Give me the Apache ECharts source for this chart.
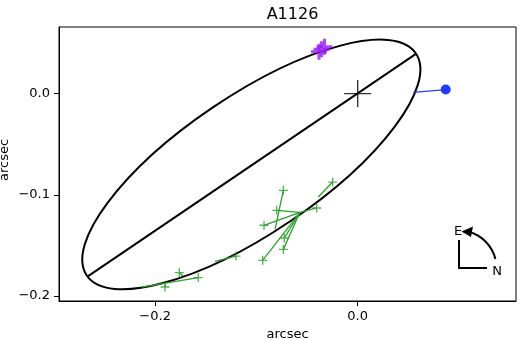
<!DOCTYPE html>
<html><head><meta charset="utf-8">
<script src="https://cdn.jsdelivr.net/npm/echarts@6/dist/echarts.min.js"></script>
<style>html,body{margin:0;padding:0;background:#fff}#c{width:520px;height:340px}</style>
</head><body><div id="c"></div>
<script>
// ---- data ----
const chartTitle = 'A1126';
const axisName = 'arcsec';
const xTicks = [-0.2, 0.0];
const yTicks = [-0.2, -0.1, 0.0];
const xRange = [-0.2949, 0.1563];
const yRange = [-0.2049, 0.0658];
// ellipse: centre x, centre y, semi-major, semi-minor, position angle (deg)
const ellipseParams = [-0.105, -0.070, 0.196, 0.068, 34];
const majorAxisX = [-0.2665, 0.0575];
const majorAxisY = [-0.1805, 0.0392];
const centreX = [0.0];
const centreY = [0.0];
const blueX = [0.0549, 0.0869];
const blueY = [0.0013, 0.0040];
const purpleX = [-0.0382, -0.0328, -0.0357];
const purpleY = [0.0413, 0.0462, 0.0438];
const greenX    = [-0.0247, -0.0734, -0.0800, -0.0405, -0.0925, -0.0725, -0.0734, -0.0938, -0.1201, -0.1574, -0.1761, -0.1902];
const greenY    = [-0.0874, -0.0956, -0.1153, -0.1130, -0.1301, -0.1427, -0.1539, -0.1647, -0.1605, -0.1818, -0.1769, -0.1911];
const greenEndX = [-0.0389, -0.0816, -0.0570, -0.0570, -0.0570, -0.0570, -0.0570, -0.0570, -0.1409, -0.2132, -0.1722, -0.1900];
const greenEndY = [-0.1022, -0.1341, -0.1173, -0.1173, -0.1173, -0.1173, -0.1173, -0.1173, -0.1657, -0.1911, -0.1802, -0.1880];

// ---- styles ----
const FONT = 'DejaVu Sans';
const BLACK = '#000000';
const GREEN = '#2ca02c';
const PURPLE = '#9a1cf0';
const BLUE = '#1f3cff';
function plusPath(t){ return 'path://M-'+t+',-10H'+t+'V-'+t+'H10V'+t+'H'+t+'V10H-'+t+'V'+t+'H-10V-'+t+'H-'+t+'Z'; }
const fmt = v => (v < -1e-9 ? '\u2212' : '') + Math.abs(v).toFixed(1);

const chart = echarts.init(document.getElementById('c'), null, {renderer:'canvas'});
const axisCommon = {
  type:'value',
  axisLine:{show:true, onZero:false, lineStyle:{color:BLACK, width:1}},
  axisTick:{show:true, length:5, lineStyle:{color:BLACK, width:1}},
  axisLabel:{color:BLACK, fontSize:13, fontFamily:FONT, margin:9, formatter:fmt},
  splitLine:{show:false},
  name:axisName, nameLocation:'middle',
  nameTextStyle:{color:BLACK, fontSize:13, fontFamily:FONT}
};
chart.setOption({
  animation:false,
  backgroundColor:'#ffffff',
  title:{text:chartTitle, left:287.5, textAlign:'center', top:2,
         textStyle:{color:BLACK, fontSize:16, fontWeight:'normal', fontFamily:FONT}},
  grid:{left:59, right:4, top:27, bottom:39, show:true, borderColor:BLACK, borderWidth:1, outerBoundsMode:'none'},
  xAxis:Object.assign({}, axisCommon, {min:xRange[0], max:xRange[1], nameGap:26,
      axisTick:Object.assign({}, axisCommon.axisTick, {customValues:xTicks}),
      axisLabel:Object.assign({}, axisCommon.axisLabel, {customValues:xTicks})}),
  yAxis:Object.assign({}, axisCommon, {min:yRange[0], max:yRange[1], nameGap:48, nameMoveOverlap:false,
      nameTextStyle:{color:BLACK, fontSize:13, fontFamily:FONT, padding:[0,0,0,8]},
      axisTick:Object.assign({}, axisCommon.axisTick, {customValues:yTicks}),
      axisLabel:Object.assign({}, axisCommon.axisLabel, {customValues:yTicks})}),
  series:[
    {type:'custom', silent:true, encode:{x:0, y:1}, data:[ellipseParams],
     renderItem:(params, api) => {
       const c = api.coord([api.value(0), api.value(1)]);
       const s = api.size([api.value(2), api.value(3)]);
       return {type:'ellipse', x:c[0], y:c[1], rotation:api.value(4)*Math.PI/180,
               shape:{cx:0, cy:0, rx:s[0], ry:s[1]},
               style:{fill:'none', stroke:BLACK, lineWidth:2}};
     }},
    {type:'line', silent:true, symbol:'none', data:majorAxisX.map((x,i)=>[x, majorAxisY[i]]),
     lineStyle:{color:BLACK, width:2}},
    {type:'scatter', silent:true, symbol:plusPath(0.5), symbolSize:27,
     itemStyle:{color:BLACK}, data:centreX.map((x,i)=>[x, centreY[i]])},
    {type:'line', silent:true, data:blueX.map((x,i)=>({value:[x, blueY[i]], symbol:i===blueX.length-1?'circle':'none', symbolSize:10})),
     lineStyle:{color:BLUE, width:1.3}, itemStyle:{color:BLUE}},
    {type:'custom', silent:true, encode:{x:[0,2], y:[1,3]},
     data:greenX.map((x,i)=>[x, greenY[i], greenEndX[i], greenEndY[i]]),
     renderItem:(params, api) => {
       const p1 = api.coord([api.value(0), api.value(1)]);
       const p2 = api.coord([api.value(2), api.value(3)]);
       return {type:'line', shape:{x1:p1[0], y1:p1[1], x2:p2[0], y2:p2[1]},
               style:{stroke:GREEN, lineWidth:1.3}};
     }},
    {type:'scatter', silent:true, symbol:plusPath(1.5), symbolSize:9,
     itemStyle:{color:GREEN}, data:greenX.map((x,i)=>[x, greenY[i]])},
    {type:'scatter', silent:true, symbol:plusPath(1.9), symbolSize:16,
     itemStyle:{color:PURPLE}, data:purpleX.map((x,i)=>[x, purpleY[i]])}
  ],
  graphic:[
    {type:'polyline', silent:true, shape:{points:[[459,240],[459,268],[487,268]]},
     style:{stroke:BLACK, lineWidth:2, fill:'none'}},
    {type:'arc', silent:true, shape:{cx:459, cy:268, r:37.5, startAngle:-75*Math.PI/180, endAngle:-14*Math.PI/180, clockwise:true},
     style:{stroke:BLACK, lineWidth:2, fill:'none'}},
    {type:'polygon', silent:true, shape:{points:[[461.5,231.5],[473,226.5],[471,237]]},
     style:{fill:BLACK}},
    {type:'text', silent:true, x:458, y:231.5, style:{text:'E', fill:BLACK, font:'13px "DejaVu Sans"', textAlign:'center', textVerticalAlign:'middle'}},
    {type:'text', silent:true, x:497, y:272, style:{text:'N', fill:BLACK, font:'13px "DejaVu Sans"', textAlign:'center', textVerticalAlign:'middle'}}
  ]
});
</script></body></html>
